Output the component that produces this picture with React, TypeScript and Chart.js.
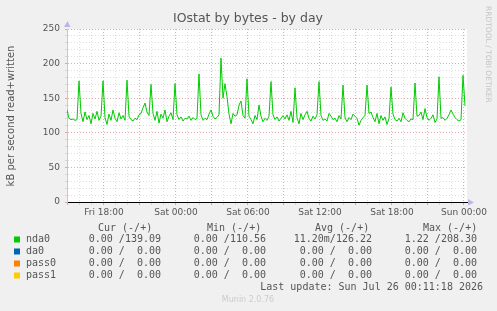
import React, { useEffect, useRef } from 'react';
import { Chart, registerables } from 'chart.js';

Chart.register(...registerables);

// Hours relative to Sat 00:00
const X_MIN = -9.0833;
const X_MAX = 24.25;
const SAMPLE_START = -9.0833;
const SAMPLE_STEP = 1 / 6; // 10 minutes

// nda0 written kB/s (10-minute samples)
const nda0Values = [
  133, 121, 119, 120, 118, 119, 175, 128,
  116, 130, 119, 125, 113, 128, 120, 131, 118, 124,
  175, 122,
  112, 127, 118, 133, 121, 116, 129, 120, 125, 118,
  176, 124,
  119, 117, 121, 119, 126, 128, 136, 143, 130, 125,
  170, 128,
  118, 131, 114, 127, 121, 133, 116, 124, 129, 119,
  171, 126,
  119, 123, 117, 121, 120, 124, 118, 122, 119, 121,
  185, 126,
  118, 121, 119, 127, 133, 124, 120, 122,
  126, 208, 150, 171, 152, 127,
  113, 128, 124, 126, 140, 146, 125, 121,
  178, 124,
  119, 113, 125, 119, 140, 124, 116, 121, 118, 124,
  174, 126,
  119, 123, 117, 121, 125, 120, 126, 118, 131, 115,
  165, 122,
  113, 128, 119, 126, 131, 121, 117, 124, 120, 126,
  174, 125,
  118, 120, 117, 128, 124, 119, 121, 116, 125, 120,
  169, 122,
  116, 122, 119, 127, 124, 121, 111, 118, 122, 125,
  169, 128,
  130, 122, 116, 128, 113, 125, 118, 123, 112, 121,
  166, 127,
  119, 117, 121, 116, 129, 121, 118, 116, 120, 119,
  172, 124,
  125, 130, 119, 135, 122, 118, 121, 126, 115, 120,
  181, 121,
  122, 118, 121, 126, 133, 127, 122, 119, 117, 119,
  183, 139,
];

const labelHours = [-6, 0, 6, 12, 18, 24];
const labelTexts = ['Fri 18:00', 'Sat 00:00', 'Sat 06:00', 'Sat 12:00', 'Sat 18:00', 'Sun 00:00'];
const yLabelValues = [0, 50, 100, 150, 200, 250];

const seriesNames = ['nda0', 'da0', 'pass0', 'pass1'];
const seriesColors = ['#00CC00', '#0066B3', '#FF8000', '#FFCC00'];
const curCol = ['0.00 /139.09', '0.00 /  0.00', '0.00 /  0.00', '0.00 /  0.00'];
const minCol = ['0.00 /110.56', '0.00 /  0.00', '0.00 /  0.00', '0.00 /  0.00'];
const avgCol = ['11.20m/126.22', '0.00 /  0.00', '0.00 /  0.00', '0.00 /  0.00'];
const maxCol = ['1.22 /208.30', '0.00 /  0.00', '0.00 /  0.00', '0.00 /  0.00'];
const headers = ['Cur (-/+)', 'Min (-/+)', 'Avg (-/+)', 'Max (-/+)'];

const TITLE = 'IOstat by bytes - by day';
const Y_TITLE = 'kB per second read+written';
const LAST_UPDATE = 'Last update: Sun Jul 26 00:11:18 2026';
const MUNIN_VERSION = 'Munin 2.0.76';
const RRD_CREDIT = 'RRDTOOL / TOBI OETIKER';

const MAJOR = 'rgba(225,130,130,0.7)';
const MINOR = 'rgba(200,200,200,0.6)';
const TEXT = '#555555';

const decorPlugin = {
  id: 'muninDecor',
  beforeDraw(chart: any) {
    const { ctx, chartArea: a } = chart;
    ctx.save();
    ctx.fillStyle = '#F0F0F0';
    ctx.fillRect(0, 0, chart.width, chart.height);
    ctx.fillStyle = '#FFFFFF';
    ctx.fillRect(a.left, a.top, a.right - a.left, a.bottom - a.top);
    ctx.restore();
  },
  afterDraw(chart: any) {
    const { ctx, chartArea: a } = chart;
    ctx.save();
    // arrows
    ctx.fillStyle = '#b8b8e8';
    ctx.beginPath();
    ctx.moveTo(a.left - 3, a.top - 2);
    ctx.lineTo(a.left + 3.5, a.top - 2);
    ctx.lineTo(a.left + 0.5, a.top - 8);
    ctx.closePath();
    ctx.fill();
    ctx.beginPath();
    ctx.moveTo(a.right + 1, a.bottom - 3);
    ctx.lineTo(a.right + 1, a.bottom + 3.5);
    ctx.lineTo(a.right + 7, a.bottom + 0.5);
    ctx.closePath();
    ctx.fill();

    // title
    ctx.fillStyle = TEXT;
    ctx.font = '12.5px "DejaVu Sans"';
    ctx.textAlign = 'center';
    ctx.textBaseline = 'middle';
    ctx.fillText(TITLE, 248, 19);

    // y title
    ctx.save();
    ctx.translate(11, 116);
    ctx.rotate(-Math.PI / 2);
    ctx.font = '10px "DejaVu Sans"';
    ctx.fillText(Y_TITLE, 0, 0);
    ctx.restore();

    // rrdtool credit
    ctx.save();
    ctx.translate(488, 6);
    ctx.rotate(Math.PI / 2);
    ctx.fillStyle = '#c4c4c4';
    ctx.font = '7.5px "DejaVu Sans"';
    ctx.textAlign = 'left';
    ctx.fillText(RRD_CREDIT, 0, 0);
    ctx.restore();

    // legend
    ctx.font = '10px "DejaVu Sans Mono"';
    ctx.fillStyle = TEXT;
    ctx.textAlign = 'left';
    const headX = [98, 207, 315, 423];
    headers.forEach((h, i) => ctx.fillText(h, headX[i], 228));
    const rowY = [239.5, 251.5, 263.5, 275.5];
    const colEnd = [161, 266, 372, 477];
    const cols = [curCol, minCol, avgCol, maxCol];
    seriesNames.forEach((name, r) => {
      ctx.fillStyle = seriesColors[r];
      ctx.fillRect(14, rowY[r] - 3, 6, 6);
      ctx.fillStyle = TEXT;
      ctx.textAlign = 'left';
      ctx.fillText(name, 26, rowY[r]);
      ctx.textAlign = 'right';
      cols.forEach((c, ci) => ctx.fillText(c[r], colEnd[ci], rowY[r]));
    });
    ctx.textAlign = 'right';
    ctx.fillText(LAST_UPDATE, 483, 287.5);

    ctx.fillStyle = '#cccccc';
    ctx.font = '8px "DejaVu Sans"';
    ctx.textAlign = 'center';
    ctx.fillText(MUNIN_VERSION, 248, 300);
    ctx.restore();
  },
};

export default function App() {
  const ref = useRef<HTMLCanvasElement | null>(null);

  useEffect(() => {
    document.body.style.margin = '0';
    const canvas = ref.current;
    if (!canvas) return;
    const points = nda0Values.map((v, i) => ({ x: SAMPLE_START + i * SAMPLE_STEP, y: v }));
    const hourTicks: number[] = [];
    for (let h = Math.ceil(X_MIN); h <= Math.floor(X_MAX); h++) hourTicks.push(h);
    const yTicks: number[] = [];
    for (let v = 0; v <= 250; v += 10) yTicks.push(v);

    const chart = new Chart(canvas, {
      type: 'line',
      data: {
        datasets: [
          {
            label: 'nda0',
            data: points,
            borderColor: seriesColors[0],
            borderWidth: 1,
            pointRadius: 0,
            fill: false,
            tension: 0,
          },
        ],
      },
      options: {
        animation: false,
        responsive: false,
        devicePixelRatio: 1,
        layout: { padding: { left: 0, top: 29, right: 30, bottom: 0 } },
        plugins: {
          legend: { display: false },
          tooltip: { enabled: false },
          title: { display: false },
        },
        scales: {
          x: {
            type: 'linear',
            min: X_MIN,
            max: X_MAX,
            afterFit: (s: any) => {
              s.height = 109;
            },
            afterBuildTicks: (s: any) => {
              s.ticks = hourTicks.map((v) => ({ value: v }));
            },
            ticks: {
              autoSkip: false,
              maxRotation: 0,
              padding: 2,
              color: TEXT,
              font: { family: 'DejaVu Sans', size: 9 },
              callback: (v: any) => {
                const i = labelHours.indexOf(Number(v));
                return i >= 0 ? labelTexts[i] : '';
              },
            },
            grid: {
              color: (c: any) => (c.tick && c.tick.value % 3 === 0 ? MAJOR : MINOR),
              lineWidth: 1,
              tickLength: 3,
            },
            border: { color: '#000000', width: 1, dash: [1, 2] },
          },
          y: {
            min: 0,
            max: 250,
            afterFit: (s: any) => {
              s.width = 67;
            },
            afterBuildTicks: (s: any) => {
              s.ticks = yTicks.map((v) => ({ value: v }));
            },
            ticks: {
              autoSkip: false,
              padding: 5,
              color: TEXT,
              font: { family: 'DejaVu Sans', size: 9 },
              callback: (v: any) => (yLabelValues.indexOf(Number(v)) >= 0 ? String(v) : ''),
            },
            grid: {
              color: (c: any) => (c.tick && c.tick.value % 50 === 0 ? MAJOR : MINOR),
              lineWidth: 1,
              tickLength: 2,
            },
            border: { color: '#c4c4ee', width: 1, dash: [1, 2] },
          },
        },
      },
      plugins: [decorPlugin],
    } as any);
    return () => chart.destroy();
  }, []);

  return (
    <div style={{ position: 'absolute', left: 0, top: 0, width: 497, height: 311 }}>
      <canvas ref={ref} width={497} height={311} style={{ display: 'block', width: 497, height: 311 }} />
    </div>
  );
}
